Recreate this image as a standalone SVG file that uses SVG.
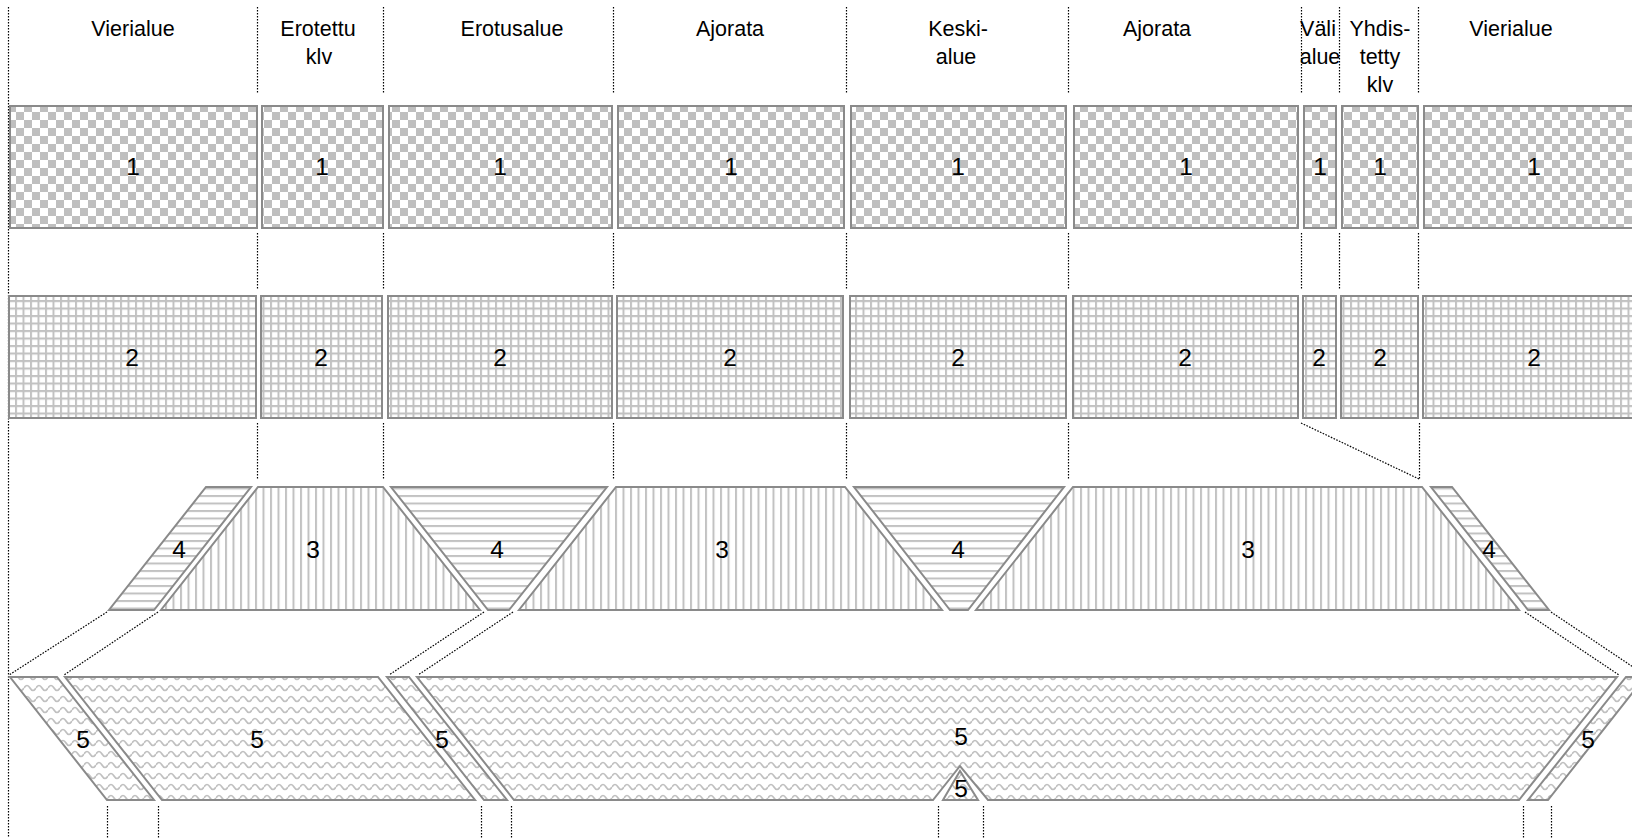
<svg xmlns="http://www.w3.org/2000/svg" width="1632" height="838" viewBox="0 0 1632 838">
<defs>
<style>
.box{stroke:#8a8a8a;stroke-width:2;}
.dot{stroke:#000;stroke-width:1.2;stroke-dasharray:1.6 1.4;fill:none;}
.hdr{font-family:"Liberation Sans",Arial,sans-serif;font-size:21.5px;text-anchor:middle;fill:#000;}
.num{font-family:"Liberation Sans",Arial,sans-serif;font-size:24.5px;text-anchor:middle;fill:#000;}
</style>
<pattern id="pChecker" width="16" height="16" patternUnits="userSpaceOnUse">
<rect width="16" height="16" fill="#fff"/>
<rect width="8" height="8" fill="#bfbfbf"/>
<rect x="8" y="8" width="8" height="8" fill="#bfbfbf"/>
</pattern>
<pattern id="pGrid" width="7.5" height="7.5" patternUnits="userSpaceOnUse">
<rect width="7.5" height="7.5" fill="#fff"/>
<path d="M0,1 H7.5 M1,0 V7.5" stroke="#c2c2c2" stroke-width="2"/>
</pattern>
<pattern id="pVert" width="7.5" height="7.5" patternUnits="userSpaceOnUse">
<rect width="7.5" height="7.5" fill="#fff"/>
<rect width="2" height="7.5" fill="#c2c2c2"/>
</pattern>
<pattern id="pHoriz" width="7.5" height="7.5" patternUnits="userSpaceOnUse">
<rect width="7.5" height="7.5" fill="#fff"/>
<rect width="7.5" height="2" fill="#c2c2c2"/>
</pattern>
<pattern id="pWave" width="12" height="11" patternUnits="userSpaceOnUse">
<rect width="12" height="11" fill="#fff"/>
<path d="M0,6 Q3,1 6,6 T12,6" fill="none" stroke="#c0c0c0" stroke-width="1.7"/>
</pattern>
</defs>
<rect width="1632" height="838" fill="#fff"/>

<g id="connectors">
<path class="dot" d="M8.5,7 V838"/>
<path class="dot" d="M257.5,7 V93 M383.5,7 V93 M613.5,7 V93 M846.5,7 V93 M1068.5,7 V93 M1301.5,7 V93 M1339.5,7 V93 M1418.5,7 V93"/>
<path class="dot" d="M257.5,233 V289 M383.5,233 V289 M613.5,233 V289 M846.5,233 V289 M1068.5,233 V289 M1301.5,233 V289 M1339.5,233 V289 M1418.5,233 V289"/>
<path class="dot" d="M257.5,423 V479 M383.5,423 V479 M613.5,423 V479 M846.5,423 V479 M1068.5,423 V479 M1419.5,423 V479 M1301,423 L1419,479"/>
<path class="dot" d="M107,612 L9,675 M158,612 L64,675 M484,612 L389,675 M513,612 L418,675 M1525,612 L1619,675 M1551,612 L1645,675"/>
<path class="dot" d="M107.5,806 V838 M158.5,806 V838 M481.5,806 V838 M511.5,806 V838 M938.5,806 V838 M983.5,806 V838 M1523.5,806 V838 M1551.5,806 V838"/>
</g>

<g id="headers">
<g id="h-vierialue-1"><text class="hdr" x="133" y="36">Vierialue</text></g>
<g id="h-erotettu"><text class="hdr" x="318" y="36">Erotettu</text><text class="hdr" x="319" y="64">klv</text></g>
<g id="h-erotusalue"><text class="hdr" x="512" y="36">Erotusalue</text></g>
<g id="h-ajorata-1"><text class="hdr" x="730" y="36">Ajorata</text></g>
<g id="h-keskialue"><text class="hdr" x="958" y="36">Keski-</text><text class="hdr" x="956" y="64">alue</text></g>
<g id="h-ajorata-2"><text class="hdr" x="1157" y="36">Ajorata</text></g>
<g id="h-valialue"><text class="hdr" x="1318" y="36">Väli</text><text class="hdr" x="1320" y="64">alue</text></g>
<g id="h-yhdistetty"><text class="hdr" x="1380" y="36">Yhdis-</text><text class="hdr" x="1380" y="64">tetty</text><text class="hdr" x="1380" y="92">klv</text></g>
<g id="h-vierialue-2"><text class="hdr" x="1511" y="36">Vierialue</text></g>
</g>

<g id="row1">
<g id="r1-1"><rect class="box" x="10" y="106" width="247" height="122" fill="url(#pChecker)"/><text class="num" x="133" y="175">1</text></g>
<g id="r1-2"><rect class="box" x="262" y="106" width="121" height="122" fill="url(#pChecker)"/><text class="num" x="322" y="175">1</text></g>
<g id="r1-3"><rect class="box" x="389" y="106" width="223" height="122" fill="url(#pChecker)"/><text class="num" x="500" y="175">1</text></g>
<g id="r1-4"><rect class="box" x="618" y="106" width="226" height="122" fill="url(#pChecker)"/><text class="num" x="731" y="175">1</text></g>
<g id="r1-5"><rect class="box" x="851" y="106" width="215" height="122" fill="url(#pChecker)"/><text class="num" x="958" y="175">1</text></g>
<g id="r1-6"><rect class="box" x="1074" y="106" width="224" height="122" fill="url(#pChecker)"/><text class="num" x="1186" y="175">1</text></g>
<g id="r1-7"><rect class="box" x="1304" y="106" width="32" height="122" fill="url(#pChecker)"/><text class="num" x="1320" y="175">1</text></g>
<g id="r1-8"><rect class="box" x="1342" y="106" width="76" height="122" fill="url(#pChecker)"/><text class="num" x="1380" y="175">1</text></g>
<g id="r1-9"><rect class="box" x="1424" y="106" width="220" height="122" fill="url(#pChecker)"/><text class="num" x="1534" y="175">1</text></g>
</g>

<g id="row2">
<g id="r2-1"><rect class="box" x="9" y="296" width="247" height="122" fill="url(#pGrid)"/><text class="num" x="132" y="366">2</text></g>
<g id="r2-2"><rect class="box" x="261" y="296" width="121" height="122" fill="url(#pGrid)"/><text class="num" x="321" y="366">2</text></g>
<g id="r2-3"><rect class="box" x="388" y="296" width="224" height="122" fill="url(#pGrid)"/><text class="num" x="500" y="366">2</text></g>
<g id="r2-4"><rect class="box" x="617" y="296" width="226" height="122" fill="url(#pGrid)"/><text class="num" x="730" y="366">2</text></g>
<g id="r2-5"><rect class="box" x="850" y="296" width="216" height="122" fill="url(#pGrid)"/><text class="num" x="958" y="366">2</text></g>
<g id="r2-6"><rect class="box" x="1073" y="296" width="225" height="122" fill="url(#pGrid)"/><text class="num" x="1185" y="366">2</text></g>
<g id="r2-7"><rect class="box" x="1303" y="296" width="33" height="122" fill="url(#pGrid)"/><text class="num" x="1319" y="366">2</text></g>
<g id="r2-8"><rect class="box" x="1341" y="296" width="77" height="122" fill="url(#pGrid)"/><text class="num" x="1380" y="366">2</text></g>
<g id="r2-9"><rect class="box" x="1423" y="296" width="221" height="122" fill="url(#pGrid)"/><text class="num" x="1534" y="366">2</text></g>
</g>

<g id="row3">
<g id="r3-4a"><polygon class="box" points="206,487 251,487 154,610 109,610" fill="url(#pHoriz)"/><text class="num" x="179" y="558">4</text></g>
<g id="r3-3a"><polygon class="box" points="258,487 383,487 480,610 161,610" fill="url(#pVert)"/><text class="num" x="313" y="558">3</text></g>
<g id="r3-4b"><polygon class="box" points="391,487 607,487 509,610 488,610" fill="url(#pHoriz)"/><text class="num" x="497" y="558">4</text></g>
<g id="r3-3b"><polygon class="box" points="616,487 845,487 942,610 519,610" fill="url(#pVert)"/><text class="num" x="722" y="558">3</text></g>
<g id="r3-4c"><polygon class="box" points="854,487 1064,487 968,610 950,610" fill="url(#pHoriz)"/><text class="num" x="958" y="558">4</text></g>
<g id="r3-3c"><polygon class="box" points="1073,487 1422,487 1519,610 976,610" fill="url(#pVert)"/><text class="num" x="1248" y="558">3</text></g>
<g id="r3-4d"><polygon class="box" points="1431,487 1452,487 1549,610 1528,610" fill="url(#pHoriz)"/><text class="num" x="1489" y="558">4</text></g>
</g>

<g id="row4">
<g id="r4-5a"><polygon class="box" points="10,677 57,677 154,800 107,800" fill="url(#pWave)"/><text class="num" x="83" y="748">5</text></g>
<g id="r4-5b"><polygon class="box" points="65,677 378,677 475,800 162,800" fill="url(#pWave)"/><text class="num" x="257" y="748">5</text></g>
<g id="r4-5c"><polygon class="box" points="387,677 409,677 507,800 484,800" fill="url(#pWave)"/><text class="num" x="442" y="748">5</text></g>
<g id="r4-5d"><polygon class="box" points="417,677 1617,677 1519,800 988,800 960,766 933,800 514,800" fill="url(#pWave)"/><text class="num" x="961" y="745">5</text></g>
<g id="r4-5e"><polygon class="box" points="943,800 960,771 978,800" fill="url(#pWave)"/><text class="num" x="961" y="797">5</text></g>
<g id="r4-5f"><polygon class="box" points="1626,677 1645,677 1548,800 1528,800" fill="url(#pWave)"/><text class="num" x="1588" y="748">5</text></g>
</g>
</svg>
